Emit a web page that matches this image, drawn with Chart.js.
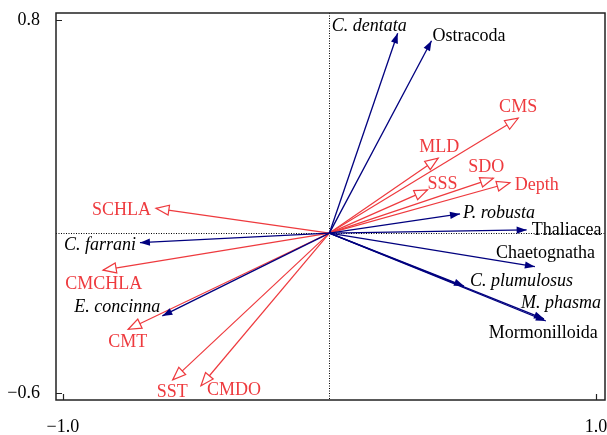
<!DOCTYPE html>
<html>
<head>
<meta charset="utf-8">
<script src="https://cdn.jsdelivr.net/npm/chart.js@4.4.0/dist/chart.umd.min.js"></script>
<style>
  html, body { margin: 0; padding: 0; background: #fff; }
</style>
</head>
<body>
<canvas id="rda" width="607" height="435"></canvas>
<script>
// ===================================
// RDA BIPLOT
// ===================================

// Variaveis ambientais (setas vermelhas, ponta aberta)
const envNames = ['CMS', 'MLD', 'SDO', 'SSS', 'Depth', 'SCHLA', 'CMCHLA', 'CMT', 'SST', 'CMDO'];
const envAxis1 = [0.708, 0.408, 0.615, 0.368, 0.677, -0.651, -0.849, -0.755, -0.588, -0.482];
const envAxis2 = [0.431, 0.281, 0.206, 0.162, 0.189, 0.093, -0.139, -0.361, -0.551, -0.573];

// Especies / grupos (setas azuis, ponta cheia)
const speciesNames = ['C. dentata', 'Ostracoda', 'P. robusta', 'Thaliacea', 'Chaetognatha',
  'C. plumulosus', 'M. phasma', 'Mormonilloida', 'C. farrani', 'E. concinna'];
const speciesAxis1 = [0.256, 0.383, 0.490, 0.740, 0.771, 0.505, 0.805, 0.812, -0.711, -0.627];
const speciesAxis2 = [0.750, 0.722, 0.072, 0.012, -0.126, -0.199, -0.322, -0.330, -0.036, -0.311];

// Marcas dos eixos
const xTicks = [-1.0, 1.0];
const yTicks = [-0.6, 0.8];

// posicao dos rotulos em px em relacao a ponta da seta (texto alinhado a esquerda)
const labelOffsets = {
  'CMS': [-19, -12], 'MLD': [-19, -12], 'SDO': [-25, -12], 'SSS': [0, -7], 'Depth': [5, 1],
  'SCHLA': [-64, 0], 'CMCHLA': [-38, 13], 'CMT': [-20, 12], 'SST': [-16, 11], 'CMDO': [6, 3],
  'C. dentata': [-66, -8], 'Ostracoda': [1, -6], 'P. robusta': [3, -2], 'Thaliacea': [5, -1],
  'Chaetognatha': [-39, -15], 'C. plumulosus': [6, -6], 'M. phasma': [-23, -17],
  'Mormonilloida': [-57, 11], 'C. farrani': [-76, 1], 'E. concinna': [-88, -10]
};

const RED = '#ee3a3e';
const BLUE = '#00007f';
const FONT = "'Liberation Serif', 'Times New Roman', serif";

function fmtTick(v) {
  return v < 0 ? '\u2212' + Math.abs(v).toFixed(1) : v.toFixed(1);
}

// um dataset por seta: origem -> ponta
const datasets = [];
speciesNames.forEach((name, i) => {
  datasets.push({
    label: name, kind: 'species',
    data: [{ x: 0, y: 0 }, { x: speciesAxis1[i], y: speciesAxis2[i] }],
    borderColor: BLUE, borderWidth: 1.3
  });
});
envNames.forEach((name, i) => {
  datasets.push({
    label: name, kind: 'env',
    data: [{ x: 0, y: 0 }, { x: envAxis1[i], y: envAxis2[i] }],
    borderColor: RED, borderWidth: 1.2
  });
});

function drawHead(ctx, x0, y0, x1, y1, len, half, color, open) {
  const a = Math.atan2(y1 - y0, x1 - x0);
  const bx = x1 - len * Math.cos(a), by = y1 - len * Math.sin(a);
  const px = -Math.sin(a) * half, py = Math.cos(a) * half;
  ctx.beginPath();
  ctx.moveTo(x1, y1);
  ctx.lineTo(bx + px, by + py);
  ctx.lineTo(bx - px, by - py);
  ctx.closePath();
  if (open) {
    ctx.fillStyle = '#fff';
    ctx.fill();
    ctx.strokeStyle = color;
    ctx.lineWidth = 1.2;
    ctx.stroke();
  } else {
    ctx.fillStyle = color;
    ctx.fill();
  }
}

// PLUGIN: linhas de zero, pontas, rotulos, moldura
const biplot = {
  id: 'biplot',
  beforeDatasetsDraw(chart) {
    const { ctx, chartArea: a, scales } = chart;
    const x0 = scales.x.getPixelForValue(0);
    const y0 = scales.y.getPixelForValue(0);
    ctx.save();
    ctx.strokeStyle = '#000';
    ctx.lineWidth = 1;
    ctx.setLineDash([1, 1.5]);
    ctx.beginPath();
    ctx.moveTo(Math.round(x0) + 0.5, a.top);
    ctx.lineTo(Math.round(x0) + 0.5, a.bottom);
    ctx.moveTo(a.left, Math.round(y0) + 0.5);
    ctx.lineTo(a.right, Math.round(y0) + 0.5);
    ctx.stroke();
    ctx.restore();
  },
  afterDatasetsDraw(chart) {
    const ctx = chart.ctx;
    ctx.save();
    chart.data.datasets.forEach((ds, i) => {
      const pts = chart.getDatasetMeta(i).data;
      const open = ds.kind === 'env';
      drawHead(ctx, pts[0].x, pts[0].y, pts[1].x, pts[1].y,
        open ? 13 : 10, open ? 5 : 3.6, ds.borderColor, open);
    });
    ctx.textAlign = 'left';
    ctx.textBaseline = 'middle';
    chart.data.datasets.forEach((ds, i) => {
      const tip = chart.getDatasetMeta(i).data[1];
      const off = labelOffsets[ds.label] || [4, 0];
      const italic = ds.label.indexOf('. ') > 0;
      ctx.font = (italic ? 'italic ' : '') + '18px ' + FONT;
      ctx.fillStyle = ds.kind === 'env' ? RED : '#000';
      ctx.fillText(ds.label, tip.x + off[0], tip.y + off[1] + 1.5);
    });
    ctx.restore();
  },
  afterDraw(chart) {
    const { ctx, chartArea: a, scales } = chart;
    ctx.save();
    ctx.strokeStyle = '#222';
    ctx.lineWidth = 1.5;
    ctx.strokeRect(a.left, a.top, a.right - a.left, a.bottom - a.top);
    ctx.lineWidth = 1.2;
    ctx.beginPath();
    xTicks.forEach(v => {
      const px = Math.round(scales.x.getPixelForValue(v)) + 0.5;
      ctx.moveTo(px, a.bottom);
      ctx.lineTo(px, a.bottom - 6);
    });
    yTicks.forEach(v => {
      const py = Math.round(scales.y.getPixelForValue(v)) + 0.5;
      ctx.moveTo(a.left, py);
      ctx.lineTo(a.left + 6, py);
    });
    ctx.stroke();
    ctx.restore();
  }
};

new Chart(document.getElementById('rda'), {
  type: 'scatter',
  data: { datasets },
  options: {
    responsive: false,
    animation: false,
    devicePixelRatio: 1,
    showLine: true,
    elements: { point: { radius: 0, hoverRadius: 0 }, line: { tension: 0 } },
    layout: { padding: { left: 0, right: 2, top: 13, bottom: 0 } },
    plugins: { legend: { display: false }, tooltip: { enabled: false } },
    scales: {
      x: {
        type: 'linear', min: -1.026, max: 1.034,
        grid: { display: false, drawTicks: false },
        border: { display: false },
        afterBuildTicks: s => { s.ticks = xTicks.map(v => ({ value: v })); },
        afterFit: s => { s.height = 35; s.paddingLeft = 0; s.paddingRight = 0; },
        ticks: {
          padding: 16, color: '#000', maxRotation: 0, autoSkip: false,
          font: { family: FONT, size: 18 },
          callback: v => fmtTick(v)
        }
      },
      y: {
        type: 'linear', min: -0.6265, max: 0.826,
        grid: { display: false, drawTicks: false },
        border: { display: false },
        afterBuildTicks: s => { s.ticks = yTicks.map(v => ({ value: v })); },
        afterFit: s => { s.width = 56; s.paddingTop = 0; s.paddingBottom = 0; },
        ticks: {
          padding: 16, color: '#000', autoSkip: false,
          font: { family: FONT, size: 18 },
          callback: v => fmtTick(v)
        }
      }
    }
  },
  plugins: [biplot]
});
</script>
</body>
</html>
